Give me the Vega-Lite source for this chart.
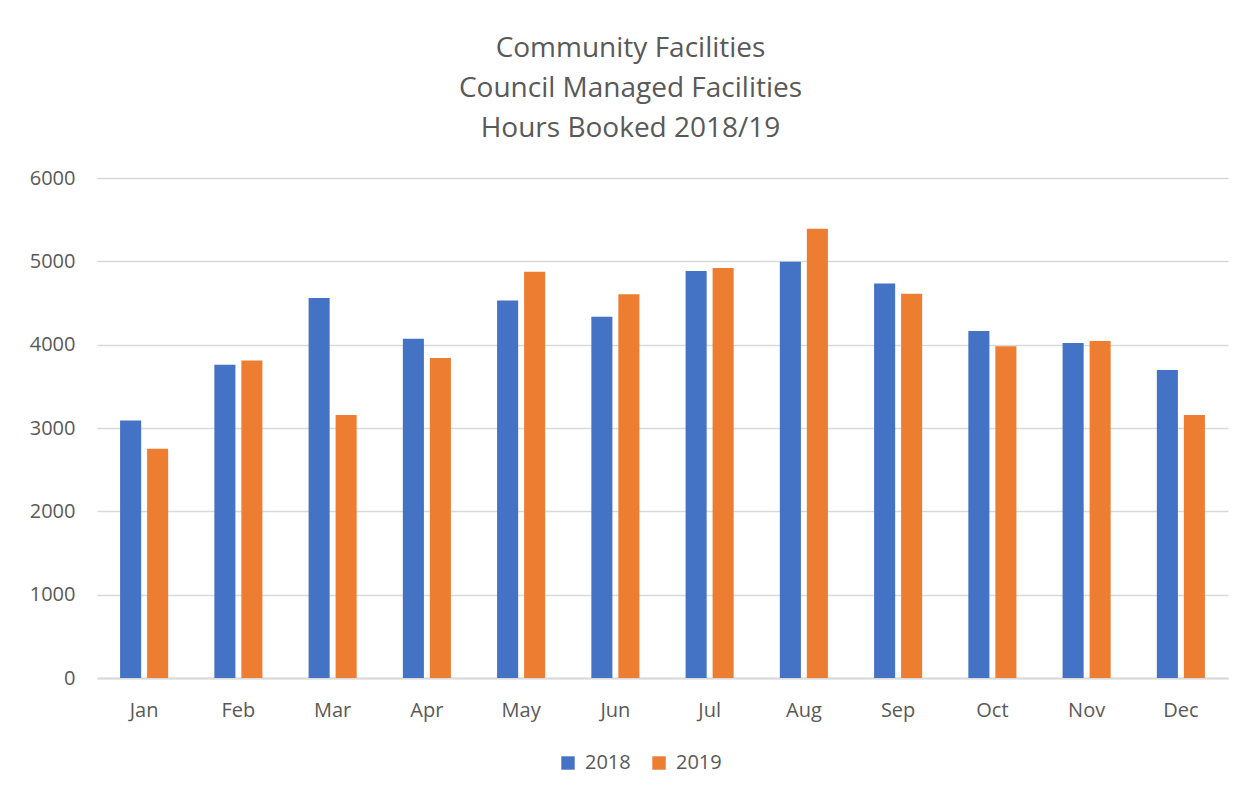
{
  "$schema": "https://vega.github.io/schema/vega-lite/v6.json",
  "autosize": "none",
  "width": 1131,
  "height": 500,
  "padding": {"left": 97, "top": 178, "right": 18, "bottom": 115},
  "background": "white",
  "title": {
    "text": ["Community Facilities", "Council Managed Facilities", "Hours Booked 2018/19"],
    "font": "Open Sans",
    "fontSize": 28,
    "fontWeight": "normal",
    "color": "#595959",
    "lineHeight": 40,
    "anchor": "middle",
    "frame": "group",
    "dx": -32,
    "offset": 25
  },
  "data": {
    "values": [
      {"month": "Jan", "year": "2018", "hours": 3090},
      {"month": "Jan", "year": "2019", "hours": 2750},
      {"month": "Feb", "year": "2018", "hours": 3760},
      {"month": "Feb", "year": "2019", "hours": 3810},
      {"month": "Mar", "year": "2018", "hours": 4560},
      {"month": "Mar", "year": "2019", "hours": 3155},
      {"month": "Apr", "year": "2018", "hours": 4070},
      {"month": "Apr", "year": "2019", "hours": 3840},
      {"month": "May", "year": "2018", "hours": 4530},
      {"month": "May", "year": "2019", "hours": 4875},
      {"month": "Jun", "year": "2018", "hours": 4335},
      {"month": "Jun", "year": "2019", "hours": 4605},
      {"month": "Jul", "year": "2018", "hours": 4885},
      {"month": "Jul", "year": "2019", "hours": 4920},
      {"month": "Aug", "year": "2018", "hours": 4995},
      {"month": "Aug", "year": "2019", "hours": 5390},
      {"month": "Sep", "year": "2018", "hours": 4735},
      {"month": "Sep", "year": "2019", "hours": 4610},
      {"month": "Oct", "year": "2018", "hours": 4165},
      {"month": "Oct", "year": "2019", "hours": 3980},
      {"month": "Nov", "year": "2018", "hours": 4020},
      {"month": "Nov", "year": "2019", "hours": 4045},
      {"month": "Dec", "year": "2018", "hours": 3695},
      {"month": "Dec", "year": "2019", "hours": 3155}
    ]
  },
  "mark": {"type": "bar"},
  "encoding": {
    "x": {
      "field": "month",
      "type": "nominal",
      "sort": ["Jan","Feb","Mar","Apr","May","Jun","Jul","Aug","Sep","Oct","Nov","Dec"],
      "scale": {"paddingInner": 0.49, "paddingOuter": 0.245},
      "axis": {
        "title": null,
        "labelAngle": 0,
        "ticks": false,
        "domain": true,
        "domainColor": "#D9D9D9",
        "domainWidth": 2,
        "labelFont": "Open Sans",
        "labelFontSize": 20,
        "labelColor": "#595959",
        "labelPadding": 22
      }
    },
    "xOffset": {
      "field": "year",
      "type": "nominal",
      "scale": {"paddingInner": 0.22, "paddingOuter": 0}
    },
    "y": {
      "field": "hours",
      "type": "quantitative",
      "scale": {"domain": [0, 6000]},
      "axis": {
        "title": null,
        "values": [0, 1000, 2000, 3000, 4000, 5000, 6000],
        "format": "d",
        "ticks": false,
        "domain": false,
        "grid": true,
        "gridColor": "#D9D9D9",
        "gridWidth": 1.5,
        "labelFont": "Open Sans",
        "labelFontSize": 20,
        "labelColor": "#595959",
        "labelPadding": 22
      }
    },
    "color": {
      "field": "year",
      "type": "nominal",
      "scale": {"domain": ["2018", "2019"], "range": ["#4472C4", "#ED7D31"]},
      "legend": {
        "title": null,
        "orient": "none",
        "direction": "horizontal",
        "legendX": 461,
        "legendY": 575,
        "symbolType": "square",
        "symbolSize": 180,
        "symbolStrokeWidth": 0,
        "labelFont": "Open Sans",
        "labelFontSize": 20,
        "labelColor": "#595959",
        "labelOffset": 7,
        "columnPadding": 18
      }
    }
  },
  "config": {
    "view": {"stroke": null}
  }
}
